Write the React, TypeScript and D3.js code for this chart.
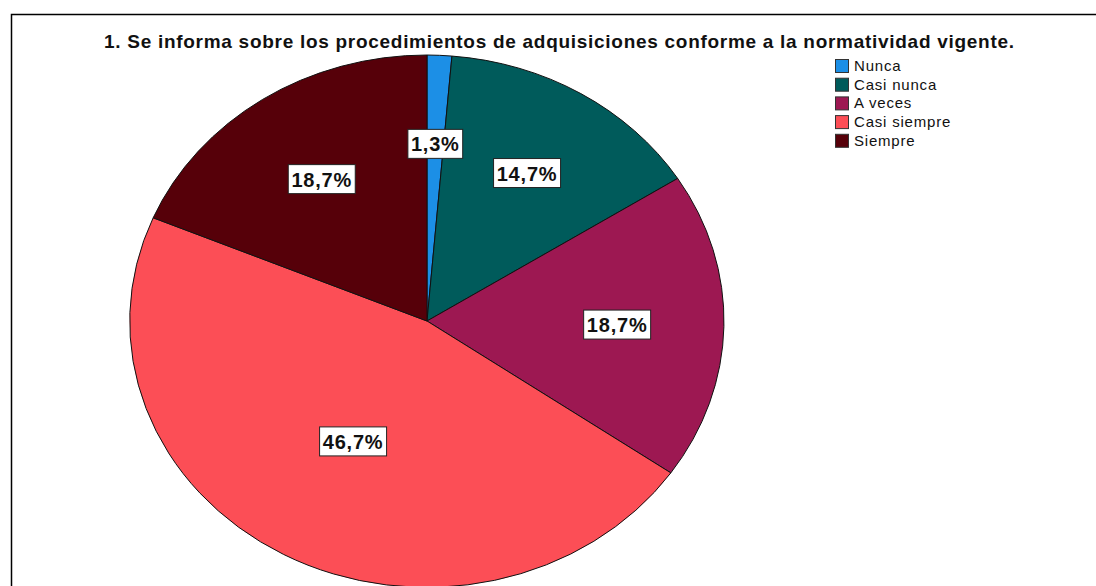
import React from 'react';
import * as d3 from 'd3';

// chart values
const title = '1. Se informa sobre los procedimientos de adquisiciones conforme a la normatividad vigente.';
const categories = ['Nunca', 'Casi nunca', 'A veces', 'Casi siempre', 'Siempre'];
const counts = [1, 11, 14, 35, 14];
const colors = ['#1c8fe6', '#005b5b', '#9d1852', '#fc4e56', '#560009'];

const W = 1096;
const H = 586;

const App = () => {
  const cx = 427;
  const cy = 321;
  const rx = 297;
  const ry = 266;

  const total = d3.sum(counts);
  const pie = d3.pie<number>().sort(null).value((d) => d)(counts);
  // unit arc, then stretched into an ellipse
  const arc = d3.arc<d3.PieArcDatum<number>>().innerRadius(0).outerRadius(1);
  const fmt = (v: number) => d3.format('.1f')((v / total) * 100).replace('.', ',') + '%';

  // label roughly on the area centroid of each slice, pulled a bit outward
  const labelPos = (d: d3.PieArcDatum<number>) => {
    const a = d.endAngle - d.startAngle;
    const mid = (d.startAngle + d.endAngle) / 2;
    const c = a < 1e-6 ? 2 / 3 : (4 * Math.sin(a / 2)) / (3 * a);
    const k = c * 0.7 + (2 / 3) * 0.3;
    return [cx + rx * k * Math.sin(mid), cy - ry * k * Math.cos(mid)];
  };

  return (
    <svg
      width={W}
      height={H}
      style={{ position: 'absolute', left: 0, top: 0, background: '#fff' }}
      fontFamily="'Liberation Sans', Arial, sans-serif"
    >
      <rect width={W} height={H} fill="#fff" />
      <path d={`M11.5,${H} V14.5 H${W}`} fill="none" stroke="#000" strokeWidth={1.5} />

      <text
        x={559}
        y={48}
        textAnchor="middle"
        fontSize={19}
        fontWeight="bold"
        fill="#111"
        textLength={910}
        lengthAdjust="spacing"
      >
        {title}
      </text>

      <g transform={`translate(${cx},${cy}) scale(${rx},${ry})`}>
        {pie.map((d, i) => (
          <path
            key={i}
            d={arc(d) || ''}
            fill={colors[i]}
            stroke="#111"
            strokeWidth={1}
            vectorEffect="non-scaling-stroke"
          />
        ))}
      </g>

      {pie.map((d, i) => {
        const [x, y] = labelPos(d);
        const label = fmt(d.value);
        const w = label.length * 12.2 + 6;
        return (
          <g key={i} transform={`translate(${x},${y})`}>
            <rect x={-w / 2} y={-14.5} width={w} height={29} fill="#fff" stroke="#222" strokeWidth={1} />
            <text textAnchor="middle" y={7.5} fontSize={20} fontWeight="bold" letterSpacing={0.8} fill="#111">
              {label}
            </text>
          </g>
        );
      })}

      <g transform="translate(835,59)">
        {categories.map((c, i) => (
          <g key={c} transform={`translate(0,${i * 18.7})`}>
            <rect x={0.5} y={0.5} width={13} height={13} fill={colors[i]} stroke="#333" strokeWidth={1} />
            <text x={19} y={12} fontSize={15} letterSpacing={0.8} fill="#111">
              {c}
            </text>
          </g>
        ))}
      </g>
    </svg>
  );
};

export default App;
